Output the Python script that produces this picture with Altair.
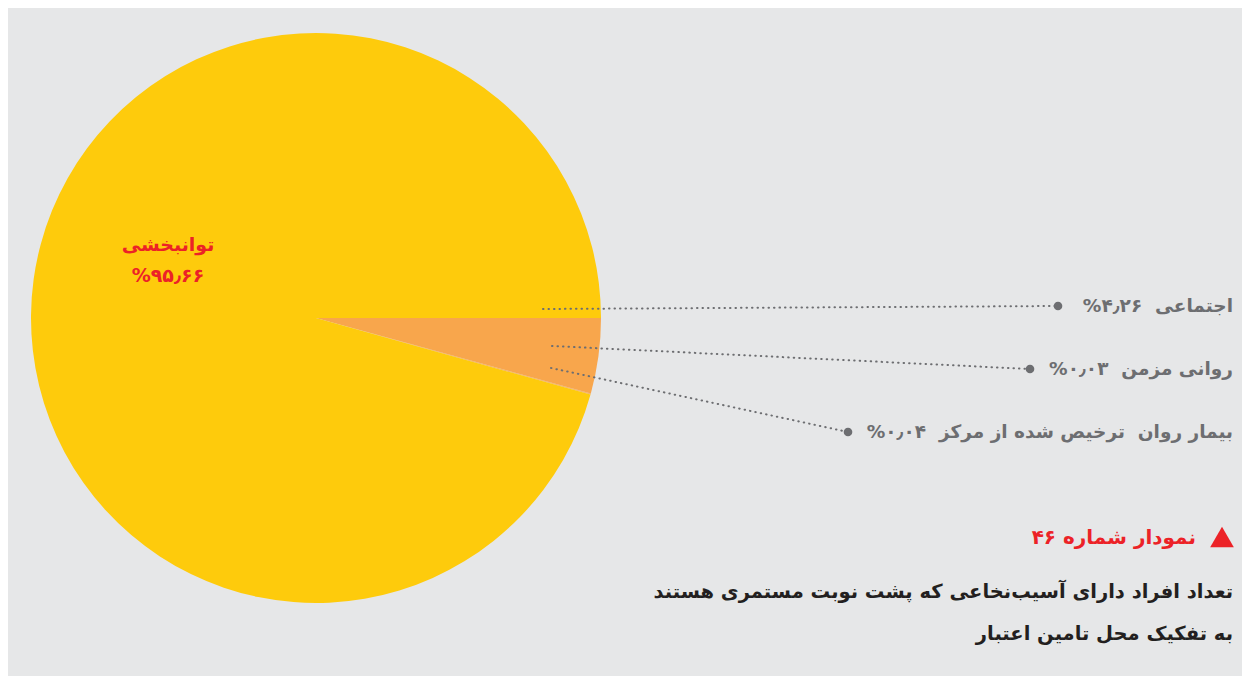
import math
import altair as alt
import pandas as pd

# ---- data ----
categories = ["اجتماعی", "روانی مزمن", "بیمار روان  ترخیص شده از مرکز", "توانبخشی"]
values = [4.26, 0.03, 0.04, 95.66]
value_labels = ["۴٫۲۶", "۰٫۰۳", "۰٫۰۴", "۹۵٫۶۶"]
slice_colors = ["#F8A64C", "#F8A64C", "#F8A64C", "#FECB0C"]

title_text = "نمودار شماره ۴۶"
subtitle_lines = [
    "تعداد افراد دارای آسیب‌نخاعی که پشت نوبت مستمری هستند",
    "به تفکیک محل تامین اعتبار",
]

# ---- layout (pixel positions of annotations) ----
W, H = 1234, 668
CX, CY, R = 308, 310, 285
FONT = "DejaVu Sans"
GRAY = "#6D6E71"
RED = "#EC2227"
NB = "\u00a0"

lead_x = [535, 544, 543]
lead_y = [301, 338, 360]
dot_x = [1050, 1022, 840]
dot_y = [298, 361, 424]
label_x = 1225

xs = alt.Scale(domain=[0, W])
ys = alt.Scale(domain=[H, 0])

pie_df = pd.DataFrame({
    "category": categories,
    "value": values,
    "order": list(range(len(categories))),
})

pie = alt.Chart(pie_df).mark_arc(radius=R).encode(
    theta=alt.Theta("value:Q", stack=True,
                    scale=alt.Scale(range=[math.pi / 2, math.pi / 2 + 2 * math.pi])),
    color=alt.Color("category:N", scale=alt.Scale(domain=categories, range=slice_colors),
                    legend=None),
    order=alt.Order("order:Q"),
    x=alt.value(CX),
    y=alt.value(CY),
)

lead_df = pd.DataFrame({
    "x": lead_x, "y": lead_y, "x2": dot_x, "y2": dot_y,
    "label": [c.replace("  ", NB + " ") + NB + NB + v + "%" + "\u200f"
              for c, v in zip(categories[:3], value_labels[:3])],
})

leaders = alt.Chart(lead_df).mark_rule(
    strokeDash=[0.5, 5], strokeCap="round", strokeWidth=2, color=GRAY
).encode(
    x=alt.X("x:Q", scale=xs, axis=None),
    y=alt.Y("y:Q", scale=ys, axis=None),
    x2="x2:Q", y2="y2:Q",
)

dots = alt.Chart(lead_df).mark_circle(size=75, color=GRAY, opacity=1).encode(
    x=alt.X("x2:Q", scale=xs, axis=None),
    y=alt.Y("y2:Q", scale=ys, axis=None),
)

labels = alt.Chart(lead_df).mark_text(
    align="right", baseline="middle", font=FONT, fontSize=18.5, fontWeight="bold", color=GRAY
).encode(
    x=alt.value(label_x),
    y=alt.Y("y2:Q", scale=ys, axis=None),
    text="label:N",
)

main_df = pd.DataFrame({
    "t": [categories[3], "%" + value_labels[3]],
    "x": [160, 160],
    "y": [237, 268],
})
main_label = alt.Chart(main_df).mark_text(
    align="center", baseline="middle", font=FONT, fontSize=19, fontWeight="bold", color=RED
).encode(
    x=alt.X("x:Q", scale=xs, axis=None),
    y=alt.Y("y:Q", scale=ys, axis=None),
    text="t:N",
)

tri_df = pd.DataFrame({"x": [1214], "y": [529]})
tri = alt.Chart(tri_df).mark_point(
    shape="triangle-up", filled=True, size=560, color=RED, opacity=1
).encode(
    x=alt.X("x:Q", scale=xs, axis=None),
    y=alt.Y("y:Q", scale=ys, axis=None),
)

title_df = pd.DataFrame({"t": [title_text], "x": [1188], "y": [530]})
title = alt.Chart(title_df).mark_text(
    align="right", baseline="middle", font=FONT, fontSize=20, fontWeight="bold", color=RED
).encode(
    x=alt.X("x:Q", scale=xs, axis=None),
    y=alt.Y("y:Q", scale=ys, axis=None),
    text="t:N",
)

sub_df = pd.DataFrame({"t": subtitle_lines, "x": [1225, 1225], "y": [584, 626]})
subtitle = alt.Chart(sub_df).mark_text(
    align="right", baseline="middle", font=FONT, fontSize=19.5, fontWeight="bold", color="#231F20"
).encode(
    x=alt.X("x:Q", scale=xs, axis=None),
    y=alt.Y("y:Q", scale=ys, axis=None),
    text="t:N",
)

chart = alt.layer(pie, leaders, dots, labels, main_label, tri, title, subtitle).properties(
    width=W, height=H, background="#E6E7E8", padding=0
).configure_view(strokeWidth=0)

chart.save("out.html", embed_options={"renderer": "svg", "actions": False})
